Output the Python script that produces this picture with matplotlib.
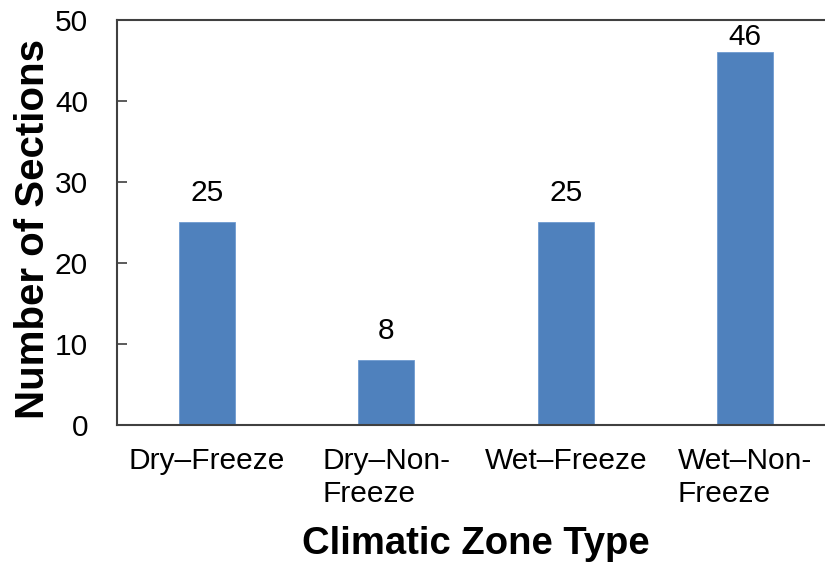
import matplotlib.pyplot as plt

# climatic zone data
zones = ["Dry–Freeze", "Dry–Non-\nFreeze", "Wet–Freeze", "Wet–Non-\nFreeze"]
sections = [25, 8, 25, 46]
y_ticks = [0, 10, 20, 30, 40, 50]

plt.rcParams['font.family'] = ['Liberation Sans', 'DejaVu Sans']

fig = plt.figure(figsize=(8.25, 5.65), dpi=100)
ax = fig.add_axes([0.142, 0.248, 0.870, 0.717])

x = list(range(len(zones)))
bars = ax.bar(x, sections, width=0.31, color='#4F81BD', edgecolor='#6f9ad0', linewidth=0.6)

ax.set_xlim(-0.5, 3.5)
ax.set_ylim(0, 50)

# value labels above each bar, squeezed down when close to the top
for xi, v in zip(x, sections):
    off = 11 if v < 45 else 1
    ax.annotate(str(v), (xi, v), xytext=(0, off), textcoords='offset points',
                ha='center', va='bottom', fontsize=21.5)

ax.set_yticks(y_ticks)
ax.set_xticks(x)
ax.set_xticklabels(zones, linespacing=1.2, multialignment='left')

ax.tick_params(axis='y', direction='in', length=7, width=1.2, labelsize=21.5, pad=21, color='#404040')
ax.tick_params(axis='x', length=0, labelsize=21.5, pad=16)

for side in ['left', 'bottom', 'top']:
    ax.spines[side].set_color('#404040')
    ax.spines[side].set_linewidth(1.5)
ax.spines['right'].set_visible(False)

ax.set_xlabel("Climatic Zone Type", fontsize=27.5, fontweight='bold', labelpad=13)
ax.set_ylabel("Number of Sections", fontsize=29, fontweight='bold', labelpad=2)
ax.yaxis.label.set_y(0.483)

fig.savefig("out.png", dpi=100)
